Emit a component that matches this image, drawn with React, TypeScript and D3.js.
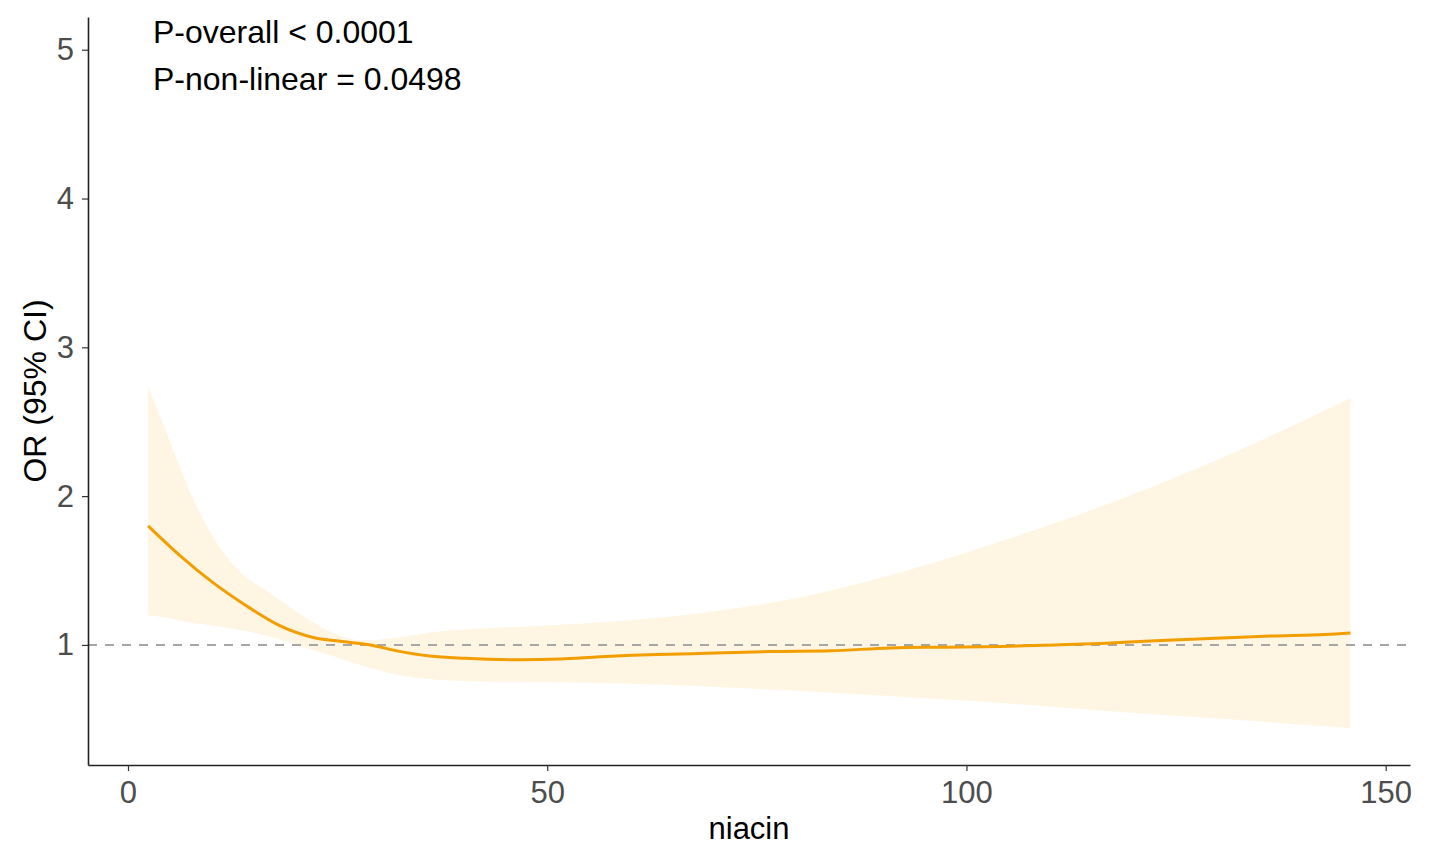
import * as d3 from "d3";
import { useRef, useEffect } from "react";

// niacin values and estimated OR with 95% CI
const niacin = [2.4, 6.2, 10.1, 14.2, 18.1, 22.1, 26.1, 28.9, 32.1, 36.0, 40.2, 46.8, 51.6, 56.3, 63.1, 70.0, 76.6, 83.8, 90.9, 97.5, 104.1, 110.6, 116.0, 123.2, 129.7, 136.3, 142.8, 145.8];
const orValue = [1.8, 1.6, 1.42, 1.26, 1.13, 1.05, 1.02, 1.0, 0.96, 0.925, 0.91, 0.9, 0.905, 0.92, 0.935, 0.945, 0.955, 0.96, 0.98, 0.985, 0.99, 1.0, 1.01, 1.03, 1.045, 1.06, 1.07, 1.08];

const bandX = [2.4, 5.0, 7.4, 10.1, 13.4, 16.6, 20.2, 24.1, 28.0, 32.1, 37.2, 42.0, 50.0, 58.7, 69.1, 80.2, 89.7, 101.6, 118.4, 131.4, 145.8];
const upper = [2.74, 2.37, 2.03, 1.73, 1.49, 1.36, 1.22, 1.09, 1.03, 1.05, 1.09, 1.11, 1.13, 1.16, 1.22, 1.32, 1.45, 1.65, 1.98, 2.28, 2.66];
const lower = [1.2, 1.18, 1.15, 1.13, 1.1, 1.06, 1.0, 0.93, 0.86, 0.8, 0.765, 0.755, 0.75, 0.74, 0.72, 0.69, 0.66, 0.62, 0.55, 0.5, 0.44];

const xTicks = [0, 50, 100, 150];
const yTicks = [1, 2, 3, 4, 5];
const annotations = ["P-overall < 0.0001", "P-non-linear = 0.0498"];

const font = "Liberation Sans, Arial, sans-serif";

export default function App() {
  const svgRef = useRef(null);

  useEffect(() => {
    const width = 1429;
    const height = 854;
    const marginTop = 17;
    const marginRight = 19;
    const marginBottom = 89;
    const marginLeft = 88;

    const x = d3.scaleLinear().domain([-4.77, 152.9]).range([marginLeft, width - marginRight]);
    const y = d3.scaleLinear().domain([0.193, 5.22]).range([height - marginBottom, marginTop]);

    const svg = d3.select(svgRef.current);
    svg.selectAll("*").remove();

    const band = bandX.map((d, i) => ({ x: d, lo: lower[i], hi: upper[i] }));
    const fit = niacin.map((d, i) => ({ x: d, y: orValue[i] }));

    // confidence band
    svg
      .append("path")
      .datum(band)
      .attr("fill", "#FFA500")
      .attr("fill-opacity", 0.11)
      .attr(
        "d",
        d3
          .area()
          .x((d) => x(d.x))
          .y0((d) => y(d.lo))
          .y1((d) => y(d.hi))
          .curve(d3.curveMonotoneX)
      );

    // reference line at OR = 1
    svg
      .append("line")
      .attr("x1", marginLeft)
      .attr("x2", width - marginRight)
      .attr("y1", y(1))
      .attr("y2", y(1))
      .attr("stroke", "#a6a6a6")
      .attr("stroke-width", 2)
      .attr("stroke-dasharray", "9,8");

    // fitted curve
    svg
      .append("path")
      .datum(fit)
      .attr("fill", "none")
      .attr("stroke", "#F29E00")
      .attr("stroke-width", 3)
      .attr(
        "d",
        d3
          .line()
          .x((d) => x(d.x))
          .y((d) => y(d.y))
          .curve(d3.curveMonotoneX)
      );

    // x-axis
    svg
      .append("g")
      .attr("transform", `translate(0,${height - marginBottom})`)
      .call(
        d3.axisBottom(x).tickValues(xTicks).tickFormat(d3.format("d")).tickSize(6).tickPadding(10).tickSizeOuter(0)
      )
      .call((g) => g.select(".domain").attr("stroke", "#222").attr("stroke-width", 1.6))
      .call((g) => g.selectAll(".tick line").attr("stroke", "#333").attr("stroke-width", 1.2))
      .call((g) =>
        g.selectAll(".tick text").attr("fill", "#4d4d4d").attr("font-size", 31).attr("font-family", font)
      );

    // y-axis
    svg
      .append("g")
      .attr("transform", `translate(${marginLeft},0)`)
      .call(
        d3.axisLeft(y).tickValues(yTicks).tickFormat(d3.format("d")).tickSize(6).tickPadding(8).tickSizeOuter(0)
      )
      .call((g) => g.select(".domain").attr("stroke", "#222").attr("stroke-width", 1.6))
      .call((g) => g.selectAll(".tick line").attr("stroke", "#333").attr("stroke-width", 1.2))
      .call((g) =>
        g.selectAll(".tick text").attr("fill", "#4d4d4d").attr("font-size", 31).attr("font-family", font)
      );

    // axis titles
    svg
      .append("text")
      .attr("x", (marginLeft + width - marginRight) / 2)
      .attr("y", 839)
      .attr("text-anchor", "middle")
      .attr("font-size", 31)
      .attr("font-family", font)
      .attr("fill", "#000")
      .text("niacin");

    svg
      .append("text")
      .attr("transform", `translate(46,${(marginTop + height - marginBottom) / 2}) rotate(-90)`)
      .attr("text-anchor", "middle")
      .attr("font-size", 32)
      .attr("font-family", font)
      .attr("fill", "#000")
      .text("OR (95% CI)");

    // p-value annotations
    svg
      .append("g")
      .selectAll("text")
      .data(annotations)
      .join("text")
      .attr("x", 153)
      .attr("y", (d, i) => 43 + i * 47)
      .attr("font-size", 32)
      .attr("font-family", font)
      .attr("fill", "#000")
      .text((d) => d);
  }, []);

  return (
    <svg
      ref={svgRef}
      width={1429}
      height={854}
      viewBox="0 0 1429 854"
      style={{ position: "absolute", left: 0, top: 0, background: "#fff" }}
    ></svg>
  );
}
